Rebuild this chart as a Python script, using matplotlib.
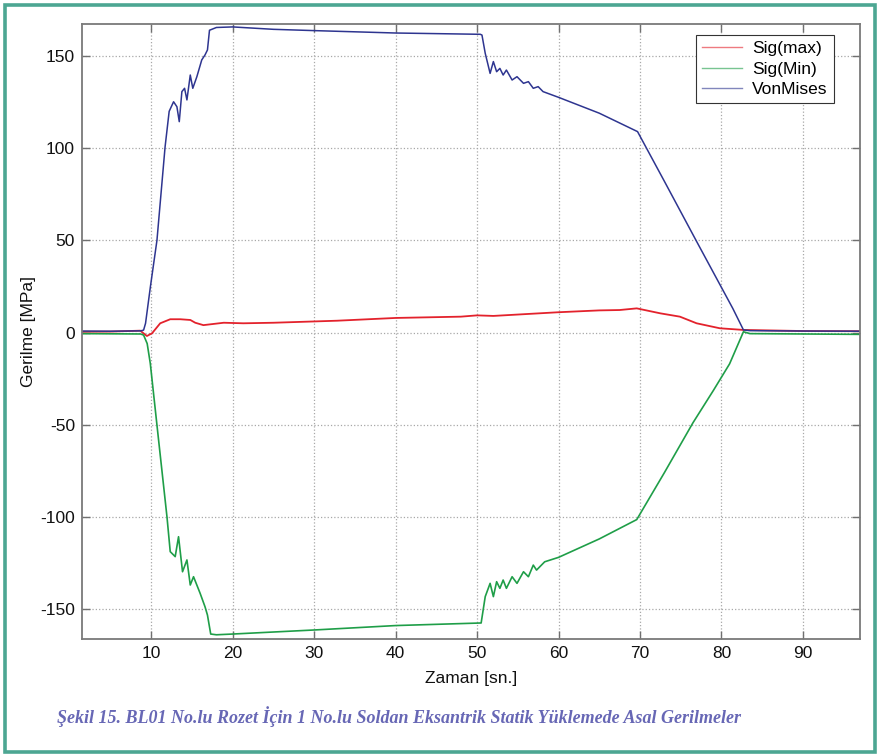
import matplotlib.pyplot as plt
from matplotlib.patches import Rectangle
from matplotlib.lines import Line2D

# VonMises
t_vm = [1.5, 5, 8.7, 9.06, 9.3, 9.9, 10.7, 11.7, 12.2, 12.74, 13.15, 13.44, 13.76,
        14.09, 14.38, 14.79, 15.1, 15.6, 16.2, 16.6, 16.9, 17.15, 18, 20, 25, 30,
        40, 50.4, 50.6, 51, 51.6, 52, 52.4, 52.8, 53.2, 53.6, 54.3, 54.9, 55.7,
        56.3, 56.9, 57.5, 58.1, 60, 65, 69.7, 73, 77, 81.4, 82.7, 83.5, 90, 97]
vm = [0.8, 0.7, 0.9, 1.3, 5, 25, 50, 100.8, 120, 125.2, 122.5, 114.4, 130.7,
      132.5, 126.2, 139.7, 132.5, 138.8, 147.9, 150.6, 153.3, 164, 165.5, 165.8,
      164.5, 163.8, 162.5, 161.8, 161.4, 151.5, 140.6, 147, 141.5, 143.3, 139.7,
      142.4, 137, 138.8, 135.2, 136.1, 132.5, 133.4, 130.7, 127.6, 119, 109, 82,
      49, 13, 1.4, 1.0, 0.8, 0.7]

# Sig(Min)
t_min = [1.5, 5, 8.7, 9.06, 9.5, 9.88, 10.7, 11.93, 12.33, 12.94, 13.35, 13.84,
         14.38, 14.79, 15.19, 16.0, 16.6, 16.9, 17.3, 18, 20, 25, 30, 40, 50.5,
         51, 51.6, 52, 52.4, 52.8, 53.2, 53.6, 54.3, 54.9, 55.7, 56.3, 56.9, 57.3,
         58.3, 60, 65, 69.6, 73, 76.5, 79, 81, 82.7, 83.5, 90, 97]
smin = [-0.6, -0.7, -0.8, -1.4, -6, -16.7, -50.2, -100, -118.9, -121.6, -110.8,
        -129.8, -123.4, -137, -132.5, -141.5, -148.8, -153.3, -163.6, -164,
        -163.6, -162.5, -161.4, -159, -157.6, -143.3, -136.1, -143.3, -135.2,
        -138.8, -134.3, -138.8, -132.5, -136.1, -129.8, -132.5, -126.2, -128.9,
        -124.4, -122, -112, -101.5, -76, -49, -31.5, -17, 0.4, -0.6, -0.8, -1]

# Sig(max)
t_max = [1.5, 5, 8.65, 9.47, 10.1, 11.1, 12.33, 13.56, 14.8, 15.4, 16.4, 18.9,
         21.3, 25, 32.8, 40, 48, 50, 52, 60, 65, 67.5, 69.6, 72.5, 74.9, 76.95,
         79.8, 82.7, 90, 97]
smax = [0.4, 0.5, 1, -1.9, -0.4, 5, 7.2, 7.2, 6.8, 5.3, 4, 5.3, 5, 5.3, 6.4,
        7.9, 8.6, 9.3, 9, 11, 12, 12.2, 13.1, 10.4, 8.6, 5, 2.3, 1.4, 0.8, 0.7]

x_ticks = [10, 20, 30, 40, 50, 60, 70, 80, 90]
y_ticks = [-150, -100, -50, 0, 50, 100, 150]

c_red = '#e3222c'
c_green = '#1f9e48'
c_blue = '#2e3590'

plt.rcParams['font.family'] = ['Liberation Sans', 'DejaVu Sans']
plt.rcParams['axes.unicode_minus'] = False

fig = plt.figure(figsize=(8.79, 7.54), dpi=100)
ax = fig.add_axes([0.0933, 0.1525, 0.885, 0.8157])

ax.plot(t_max, smax, color=c_red, lw=1.3)
ax.plot(t_min, smin, color=c_green, lw=1.2)
ax.plot(t_vm, vm, color=c_blue, lw=1.1)

ax.set_xlim(1.5, 97)
ax.set_ylim(-166.3, 167.4)
ax.set_xticks(x_ticks)
ax.set_yticks(y_ticks)
ax.grid(True, linestyle=':', color='#a8a8a8', lw=0.9)
ax.tick_params(direction='in', length=6, width=1, colors='#707070',
               labelcolor='#111111', labelsize=12.5, top=True, right=True, pad=5)
for s in ax.spines.values():
    s.set_color('#7a7a7a')
    s.set_linewidth(1.3)

ax.set_xlabel('Zaman [sn.]', fontsize=12.5, color='#111111', labelpad=7)
ax.set_ylabel('Gerilme [MPa]', fontsize=12.5, color='#111111', labelpad=3)

handles = [Line2D([], [], color=c_red, lw=1, alpha=0.6),
           Line2D([], [], color=c_green, lw=1, alpha=0.6),
           Line2D([], [], color=c_blue, lw=1, alpha=0.6)]
leg = ax.legend(handles, ['Sig(max)', 'Sig(Min)', 'VonMises'],
                loc='upper right', bbox_to_anchor=(0.9666, 0.982),
                fontsize=12.5, fancybox=False, framealpha=1,
                handlelength=2.3, borderpad=0.35, labelspacing=0.3,
                handletextpad=0.6, borderaxespad=0)
leg.get_frame().set_edgecolor('#333333')
leg.get_frame().set_linewidth(0.8)

fig.text(0.065, 0.049,
         'Şekil 15. BL01 No.lu Rozet İçin 1 No.lu Soldan Eksantrik Statik Yüklemede Asal Gerilmeler',
         family='Liberation Serif', style='italic', weight='bold',
         color='#6767b5', fontsize=13.0, va='center')

fig.patches.append(Rectangle((5 / 879, 2.5 / 754), 870 / 879, 746.5 / 754,
                             transform=fig.transFigure, fill=False,
                             edgecolor='#4ca692', lw=2.6))

fig.savefig('out.png', dpi=100)
